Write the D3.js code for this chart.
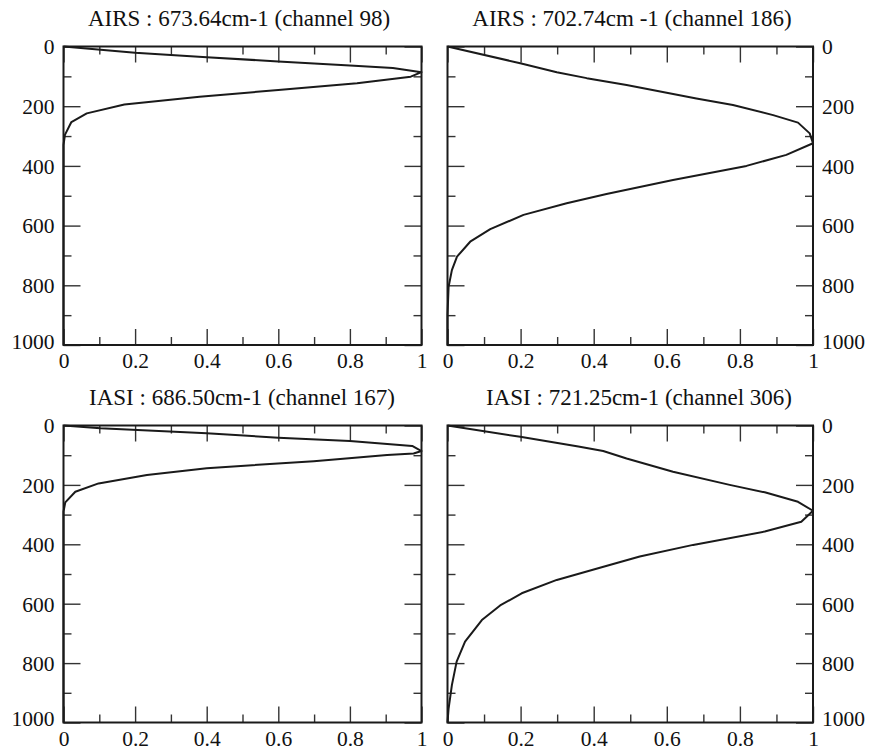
<!DOCTYPE html>
<html>
<head>
<meta charset="utf-8">
<script src="https://cdn.jsdelivr.net/npm/d3@7"></script>
<style>
  html, body { margin: 0; padding: 0; background: #fff; }
  svg { display: block; }
</style>
</head>
<body>
<svg id="chart" width="871" height="750" font-family="'Liberation Serif', 'Times New Roman', 'DejaVu Serif', serif"></svg>
<script>
// ---- Data (weighting function value vs pressure in hPa) ----
const titles = [
  "AIRS : 673.64cm-1 (channel 98)",
  "AIRS : 702.74cm -1 (channel 186)",
  "IASI : 686.50cm-1 (channel 167)",
  "IASI : 721.25cm-1 (channel 306)"
];

const xTickValues = [0, 0.2, 0.4, 0.6, 0.8, 1];
const xMinorValues = [0.1, 0.3, 0.5, 0.7, 0.9];
const yTickValues = [0, 200, 400, 600, 800, 1000];
const yMinorValues = [100, 300, 500, 700, 900];
const xTickLabels = ["0", "0.2", "0.4", "0.6", "0.8", "1"];
const yTickLabels = ["0", "200", "400", "600", "800", "1000"];

// AIRS channel 98
const airs98Weight   = [0, 0.2, 0.4, 0.6, 0.8, 0.92, 1.0, 0.97, 0.82, 0.6, 0.38, 0.17, 0.065, 0.022, 0.004, 0, 0];
const airs98Pressure = [0, 21, 36, 50, 64, 72, 86, 101, 123, 146, 168, 194, 224, 253, 296, 330, 1000];

// AIRS channel 186
const airs186Weight   = [0, 0.199, 0.299, 0.381, 0.49, 0.681, 0.781, 0.891, 0.959, 0.991, 1.0, 0.927, 0.818, 0.617, 0.435, 0.326, 0.208, 0.117, 0.062, 0.026, 0.012, 0.003, 0, 0];
const airs186Pressure = [0, 56, 86, 106, 129, 174, 196, 230, 255, 291, 324, 363, 400, 447, 494, 525, 564, 612, 654, 704, 749, 805, 900, 1000];

// IASI channel 167
const iasi167Weight   = [0, 0.103, 0.4, 0.6, 0.8, 0.974, 1.0, 0.978, 0.904, 0.699, 0.4, 0.233, 0.098, 0.033, 0.005, 0, 0];
const iasi167Pressure = [0, 9, 26, 41, 52, 69, 86, 94, 99, 120, 144, 167, 195, 223, 259, 290, 1000];

// IASI channel 306
const iasi306Weight   = [0, 0.199, 0.358, 0.426, 0.49, 0.617, 0.772, 0.868, 0.959, 1.0, 0.968, 0.868, 0.672, 0.526, 0.417, 0.299, 0.203, 0.144, 0.094, 0.048, 0.025, 0.012, 0.003, 0];
const iasi306Pressure = [0, 38, 71, 86, 111, 156, 200, 225, 257, 287, 324, 357, 402, 441, 479, 520, 565, 606, 655, 728, 795, 874, 953, 1000];

const weights   = [airs98Weight, airs186Weight, iasi167Weight, iasi306Weight];
const pressures = [airs98Pressure, airs186Pressure, iasi167Pressure, iasi306Pressure];

// ---- Layout ----
const panels = [
  { x: 63.5,  y: 46.5,  w: 358,   h: 298.5, side: "left",  titleX: 239, titleY: 26 },
  { x: 447.5, y: 46.5,  w: 365.5, h: 298.5, side: "right", titleX: 632, titleY: 26 },
  { x: 63.5,  y: 425.5, w: 358,   h: 297,   side: "left",  titleX: 242, titleY: 405 },
  { x: 447.5, y: 425.5, w: 365.5, h: 297,   side: "right", titleX: 639, titleY: 405 }
];

const svg = d3.select("#chart");
const FS = 21.5;
const TFS = 23;
const FONT = "'Liberation Serif', 'Times New Roman', 'DejaVu Serif', serif";

panels.forEach((P, i) => {
  const g = svg.append("g").attr("transform", `translate(${P.x},${P.y})`);
  const x = d3.scaleLinear().domain([0, 1]).range([0, P.w]);
  const y = d3.scaleLinear().domain([0, 1000]).range([0, P.h]);

  const styleTicks = sel => {
    sel.attr("font-family", FONT).attr("font-size", FS);
    sel.select(".domain").remove();
    sel.selectAll(".tick line").attr("stroke", "#333").attr("stroke-width", 1.4);
    sel.selectAll(".tick text").attr("fill", "#111").attr("font-family", FONT);
  };

  // X axes (bottom, with labels; top, no labels) – ticks pointing inward
  g.append("g").attr("transform", `translate(0,${P.h})`)
    .call(d3.axisBottom(x).tickValues(xTickValues).tickSize(-16)
      .tickFormat((d, k) => xTickLabels[k]))
    .call(styleTicks)
    .call(s => s.selectAll(".tick text").attr("y", 23).attr("dy", 0));
  g.append("g").attr("transform", `translate(0,${P.h})`)
    .call(d3.axisBottom(x).tickValues(xMinorValues).tickSize(-8).tickFormat(""))
    .call(styleTicks);
  g.append("g")
    .call(d3.axisTop(x).tickValues(xTickValues).tickSize(-16).tickFormat(""))
    .call(styleTicks);
  g.append("g")
    .call(d3.axisTop(x).tickValues(xMinorValues).tickSize(-8).tickFormat(""))
    .call(styleTicks);

  // Y axes (labels on outer side); the bottom label sits slightly raised
  const labelLeft = P.side === "left";
  const yLabelDy = d => (d === 1000 ? -4 : 0);
  g.append("g")
    .call(d3.axisLeft(y).tickValues(yTickValues).tickSize(-17)
      .tickFormat(labelLeft ? (d, k) => yTickLabels[k] : ""))
    .call(styleTicks)
    .call(s => s.selectAll(".tick text").attr("x", -9).attr("dy", "0.34em")
      .attr("y", yLabelDy));
  g.append("g")
    .call(d3.axisLeft(y).tickValues(yMinorValues).tickSize(-8).tickFormat(""))
    .call(styleTicks);
  g.append("g").attr("transform", `translate(${P.w},0)`)
    .call(d3.axisRight(y).tickValues(yTickValues).tickSize(-17)
      .tickFormat(!labelLeft ? (d, k) => yTickLabels[k] : ""))
    .call(styleTicks)
    .call(s => s.selectAll(".tick text").attr("x", 9).attr("dy", "0.34em")
      .attr("y", yLabelDy));
  g.append("g").attr("transform", `translate(${P.w},0)`)
    .call(d3.axisRight(y).tickValues(yMinorValues).tickSize(-8).tickFormat(""))
    .call(styleTicks);

  // Frame
  g.append("rect").attr("x", 0).attr("y", 0).attr("width", P.w).attr("height", P.h)
    .attr("fill", "none").attr("stroke", "#1a1a1a").attr("stroke-width", 2);

  // Curve
  const pts = weights[i].map((w, k) => [w, pressures[i][k]]);
  g.append("path").datum(pts)
    .attr("fill", "none").attr("stroke", "#1a1a1a").attr("stroke-width", 2)
    .attr("stroke-linejoin", "round")
    .attr("d", d3.line().x(d => x(d[0])).y(d => y(d[1])));

  // Title
  svg.append("text").attr("x", P.titleX).attr("y", P.titleY)
    .attr("text-anchor", "middle").attr("font-size", TFS).attr("fill", "#111")
    .attr("font-family", FONT)
    .text(titles[i]);
});
</script>
</body>
</html>
